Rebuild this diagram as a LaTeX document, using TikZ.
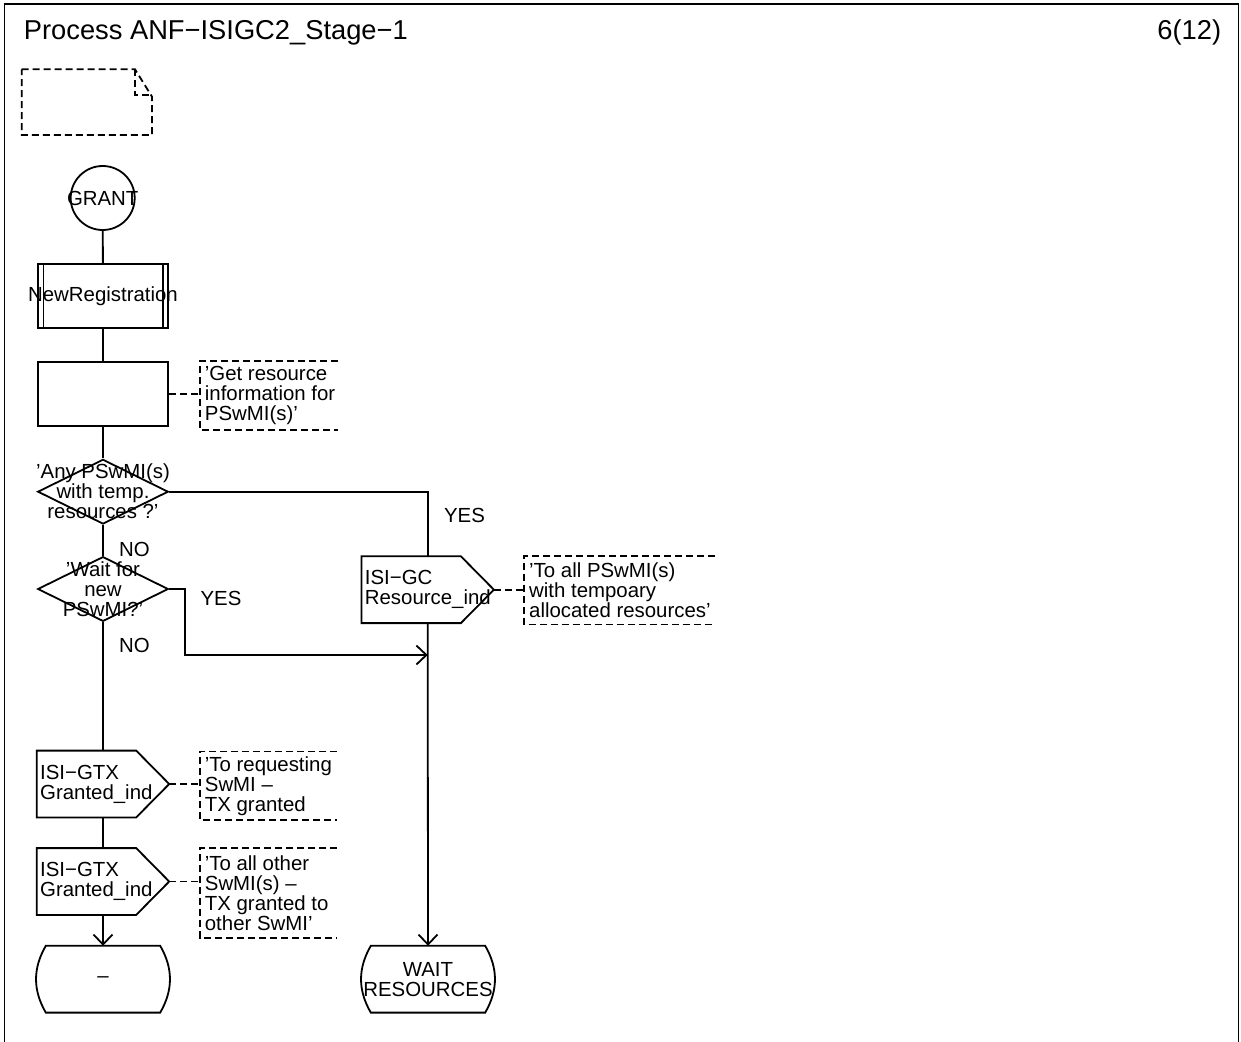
\documentclass[tikz,border=0pt]{standalone}
\usepackage{fontspec}
\setmainfont{Liberation Sans}
\usetikzlibrary{shapes.geometric,arrows.meta}

\begin{document}
\begin{tikzpicture}[
    x=1pt, y=-1pt,
    line width=1.8pt,
    >={Straight Barb[length=10pt,width=19pt]},
    txt/.style={font=\fontsize{20.4}{20}\selectfont, inner sep=0pt, align=center},
    ctext/.style={label={[txt]center:{#1}}},
    ltext/.style={label={[txt, align=left, anchor=west, inner xsep=2.5pt]west:{#1}}},
    start/.style={circle, draw, minimum size=64pt, inner sep=0pt},
    block/.style={rectangle, draw, minimum width=130.6pt, minimum height=64.5pt, inner sep=0pt},
    decision/.style={diamond, draw, minimum width=130.6pt, minimum height=64.7pt, inner sep=0pt},
    outsig/.style={rectangle, minimum width=130.6pt, minimum height=65pt, inner sep=0pt},
    nextstate/.style={rectangle, minimum width=130.6pt, minimum height=65pt, inner sep=0pt},
    cmt/.style={txt, align=left, anchor=west, minimum height=#1, inner xsep=4pt},
    cmtline/.style={dash pattern=on 7pt off 4pt},
    ]

\useasboundingbox (0,0) rectangle (1241,1041);
\draw (4.5,4) rectangle (1238.5,1046);

\node[txt, font=\fontsize{27.3}{30}\selectfont, anchor=base west] (title) at (23,40) {Process ANF−ISIGC2\_Stage−1};
\node[txt, font=\fontsize{27.3}{30}\selectfont, anchor=base east] (page) at (1222,40) {6(12)};

% text symbol, top left
\draw[cmtline] (21.7,69.3) -- (135,69.3) -- (152,96.7) -- (152,135) -- (21.7,135) -- cycle;
\draw[cmtline] (135,69.3) -- (135,95) -- (152,95);

% left column
\node[start, ctext=GRANT] (grant) at (102.7,198) {};
\node[block, ctext=NewRegistration] (newreg) at (103,296) {};
\draw ([xshift=6.6]newreg.north west) -- ([xshift=6.6]newreg.south west);
\draw ([xshift=-6.6]newreg.north east) -- ([xshift=-6.6]newreg.south east);
\node[block] (getres) at (103,394) {};
\node[decision, ctext={'Any PSwMI(s)\\with temp.\\resources ?'}] (anytemp) at (103,491.7) {};
\node[decision, ctext={'Wait for\\new\\PSwMI?'}] (waitnew) at (103,589) {};
\node[outsig, ltext={ISI−GTX\\Granted\_ind}] (granted) at (103,784) {};
\node[outsig, ltext={ISI−GTX\\Granted\_ind}] (grantoth) at (103,881.5) {};
\node[nextstate, ctext=–] (dash) at (103,979.2) {};

% right column
\node[outsig, ltext={ISI−GC\\Resource\_ind}] (resind) at (427.7,589.7) {};
\node[nextstate, ctext={WAIT\\RESOURCES}] (waitres) at (428,979.2) {};
\coordinate (merge) at (427.7,655);

% output and state outlines
\foreach \o in {granted,grantoth,resind}
  \draw (\o.north west) -- ([xshift=-33]\o.north east) -- (\o.east)
        -- ([xshift=-33]\o.south east) -- (\o.south west) -- cycle;
\foreach \s in {dash,waitres}
  \draw ([xshift=9]\s.north west) -- ([xshift=-9]\s.north east)
        to[bend left=30] ([xshift=-9]\s.south east) -- ([xshift=9]\s.south west)
        to[bend left=30] ([xshift=9]\s.north west) -- cycle;

% comments
\node[cmt=67pt] (c1) at (200,395.5) {'Get resource\\information for\\PSwMI(s)'};
\node[cmt=67pt] (c2) at (524.3,590) {'To all PSwMI(s)\\with tempoary\\allocated resources'};
\node[cmt=67pt] (c3) at (200,785.8) {'To requesting\\SwMI –\\TX granted};
\node[cmt=88pt] (c4) at (200,893.2) {'To all other\\SwMI(s) –\\TX granted to\\other SwMI'};
\foreach \c/\w in {c1/138,c2/191,c3/137,c4/137}
  \draw[cmtline] ([xshift=\w]\c.north west) -- (\c.north west) -- (\c.south west) -- ([xshift=\w]\c.south west);
\draw[cmtline] (getres.east) -- (getres.east -| c1.west);
\draw[cmtline] (resind.east) -- (resind.east -| c2.west);
\draw[cmtline] (granted.east) -- (granted.east -| c3.west);
\draw[cmtline] (grantoth.east) -- (grantoth.east -| c4.west);

% flow lines
\draw (grant) -- (newreg);
\draw (newreg) -- (getres);
\draw (getres) -- (anytemp);
\draw (anytemp) -- (waitnew);
\draw (waitnew) -- (granted);
\draw (granted) -- (grantoth);
\draw[->] (grantoth) -- (dash);
\draw (anytemp.east) -| (resind.north);
\draw[->] (waitnew.east) -- ++(16,0) |- (merge);
\draw[->] (resind.south) -- (waitres.north);

\node[txt] (yes1) at (464.5,515.5) {YES};
\node[txt] (no1) at (134.5,549) {NO};
\node[txt] (yes2) at (221,598) {YES};
\node[txt] (no2) at (134.5,645.5) {NO};

\end{tikzpicture}
\end{document}
